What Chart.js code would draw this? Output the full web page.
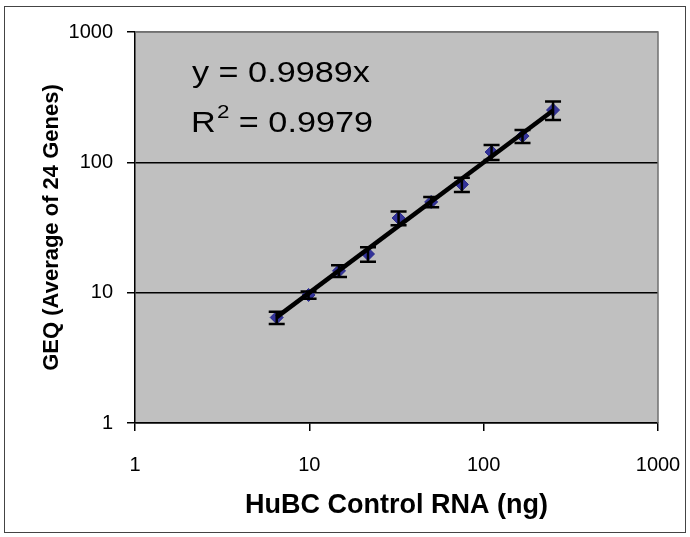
<!DOCTYPE html>
<html><head><meta charset="utf-8">
<script src="https://cdn.jsdelivr.net/npm/chart.js@4.4.0/dist/chart.umd.min.js"></script>
<style>html,body{margin:0;padding:0;background:#fff;}#wrap{width:690px;height:537px;position:relative;}</style>
</head><body><div id="wrap"><canvas id="c" width="690" height="537"></canvas></div>
<script>
// ---- data ----
const rnaNg    = [6.5, 9.9, 14.8, 21.7, 32.5, 50, 75, 111, 167, 250];
const geqMean  = [6.45, 9.6, 14.7, 19.8, 37.4, 49.7, 67.7, 120, 159, 252];
const geqError = [0.7, 0.6, 1.5, 2.5, 4.5, 4.5, 8.5, 16, 18, 41];
const trendX   = [6.5, 250];
const trendY   = [6.49, 249.7];
const xTickValues = [1, 10, 100, 1000];
const yTickValues = [1, 10, 100, 1000];
const xTitle = 'HuBC Control RNA (ng)';
const yTitle = 'GEQ (Average of 24 Genes)';
const equationText = 'y = 0.9989x';
const r2Label = 'R';
const r2Sup = '2';
const r2Value = ' = 0.9979';

const FONT = '"Liberation Sans", Arial, sans-serif';

const framePlugin = {
  id: 'frame',
  beforeDraw(chart) {
    const {ctx, chartArea: a} = chart;
    ctx.save();
    ctx.fillStyle = '#fff';
    ctx.fillRect(0, 0, chart.width, chart.height);
    ctx.strokeStyle = '#444';
    ctx.lineWidth = 1;
    ctx.strokeRect(4.5, 6.5, 681, 526);
    ctx.fillStyle = '#c0c0c0';
    ctx.fillRect(a.left, a.top, a.right - a.left, a.bottom - a.top);
    ctx.restore();
  },
  beforeDatasetsDraw(chart) {
    const {ctx, chartArea: a} = chart;
    ctx.save();
    ctx.strokeStyle = '#707070';
    ctx.lineWidth = 1.5;
    ctx.beginPath();
    ctx.moveTo(a.left, a.top); ctx.lineTo(a.right, a.top); ctx.lineTo(a.right, a.bottom);
    ctx.stroke();
    ctx.restore();
  },
  afterDatasetDraw(chart, args) {
    if (args.index !== 1) return;
    const {ctx} = chart;
    const xs = chart.scales.x, ys = chart.scales.y;
    ctx.save();
    ctx.strokeStyle = '#000';
    ctx.lineWidth = 2.5;
    for (let i = 0; i < rnaNg.length; i++) {
      const px = xs.getPixelForValue(rnaNg[i]);
      const t = ys.getPixelForValue(geqMean[i] + geqError[i]);
      const b = ys.getPixelForValue(geqMean[i] - geqError[i]);
      ctx.beginPath();
      ctx.moveTo(px, t); ctx.lineTo(px, b);
      ctx.moveTo(px - 8, t); ctx.lineTo(px + 8, t);
      ctx.moveTo(px - 8, b); ctx.lineTo(px + 8, b);
      ctx.stroke();
    }
    ctx.restore();
  },
  afterDraw(chart) {
    const {ctx} = chart;
    ctx.save();
    ctx.fillStyle = '#000';
    ctx.textBaseline = 'alphabetic';
    ctx.textAlign = 'left';
    ctx.font = '29px ' + FONT;
    ctx.save();
    ctx.translate(192, 82); ctx.scale(1.18, 1);
    ctx.fillText(equationText, 0, 0);
    ctx.restore();
    ctx.save();
    ctx.translate(191, 132); ctx.scale(1.18, 1);
    ctx.fillText(r2Label, 0, 0);
    const wR = ctx.measureText(r2Label).width;
    ctx.font = '19px ' + FONT;
    ctx.fillText(r2Sup, wR + 1, -14);
    const wS = ctx.measureText(r2Sup).width;
    ctx.font = '29px ' + FONT;
    ctx.fillText(r2Value, wR + wS + 1, 0);
    ctx.restore();
    ctx.restore();
  }
};

new Chart(document.getElementById('c'), {
  type: 'scatter',
  data: {
    datasets: [
      {
        label: 'Trend',
        data: trendX.map((x, i) => ({x, y: trendY[i]})),
        showLine: true,
        borderColor: '#000',
        borderWidth: 4.5,
        pointRadius: 0,
        order: 0
      },
      {
        label: 'GEQ',
        data: rnaNg.map((x, i) => ({x, y: geqMean[i]})),
        pointStyle: 'rectRot',
        pointRadius: 6.5,
        backgroundColor: '#33339a',
        borderColor: '#2a2a8a',
        borderWidth: 1,
        order: 1
      }
    ]
  },
  options: {
    responsive: false,
    animation: false,
    devicePixelRatio: 1,
    layout: {padding: {top: 32, right: 32, bottom: 0, left: 0}},
    plugins: {legend: {display: false}, tooltip: {enabled: false}},
    scales: {
      x: {
        type: 'logarithmic',
        min: 1, max: 1000,
        afterBuildTicks: s => { s.ticks = xTickValues.map(v => ({value: v})); },
        afterFit: s => { s.height = 114; s.paddingLeft = 0; s.paddingRight = 0; },
        ticks: {
          color: '#000',
          font: {family: FONT, size: 20},
          padding: 22,
          maxRotation: 0,
          callback: v => String(v)
        },
        grid: {drawOnChartArea: false, tickLength: 8, tickColor: '#000', lineWidth: 1.5},
        border: {color: '#000', width: 1.5},
        title: {
          display: true, text: xTitle, color: '#000',
          font: {family: FONT, size: 27, weight: 'bold'},
          padding: {top: 0, bottom: 15}
        }
      },
      y: {
        type: 'logarithmic',
        min: 1, max: 1000,
        afterBuildTicks: s => { s.ticks = yTickValues.map(v => ({value: v})); },
        afterFit: s => { s.width = 135; s.paddingTop = 0; s.paddingBottom = 0; },
        ticks: {
          color: '#000',
          font: {family: FONT, size: 20},
          padding: 14,
          callback: v => String(v)
        },
        grid: {
          color: c => (c.tick && c.tick.value === 1000) ? '#707070' : '#000',
          lineWidth: 1.5, tickLength: 8, tickColor: '#000'
        },
        border: {color: '#000', width: 1.5},
        title: {
          display: true, text: yTitle, color: '#000',
          font: {family: FONT, size: 22, weight: 'bold'},
          padding: {top: 39, bottom: 0}
        }
      }
    }
  },
  plugins: [framePlugin]
});
</script>
</body></html>
